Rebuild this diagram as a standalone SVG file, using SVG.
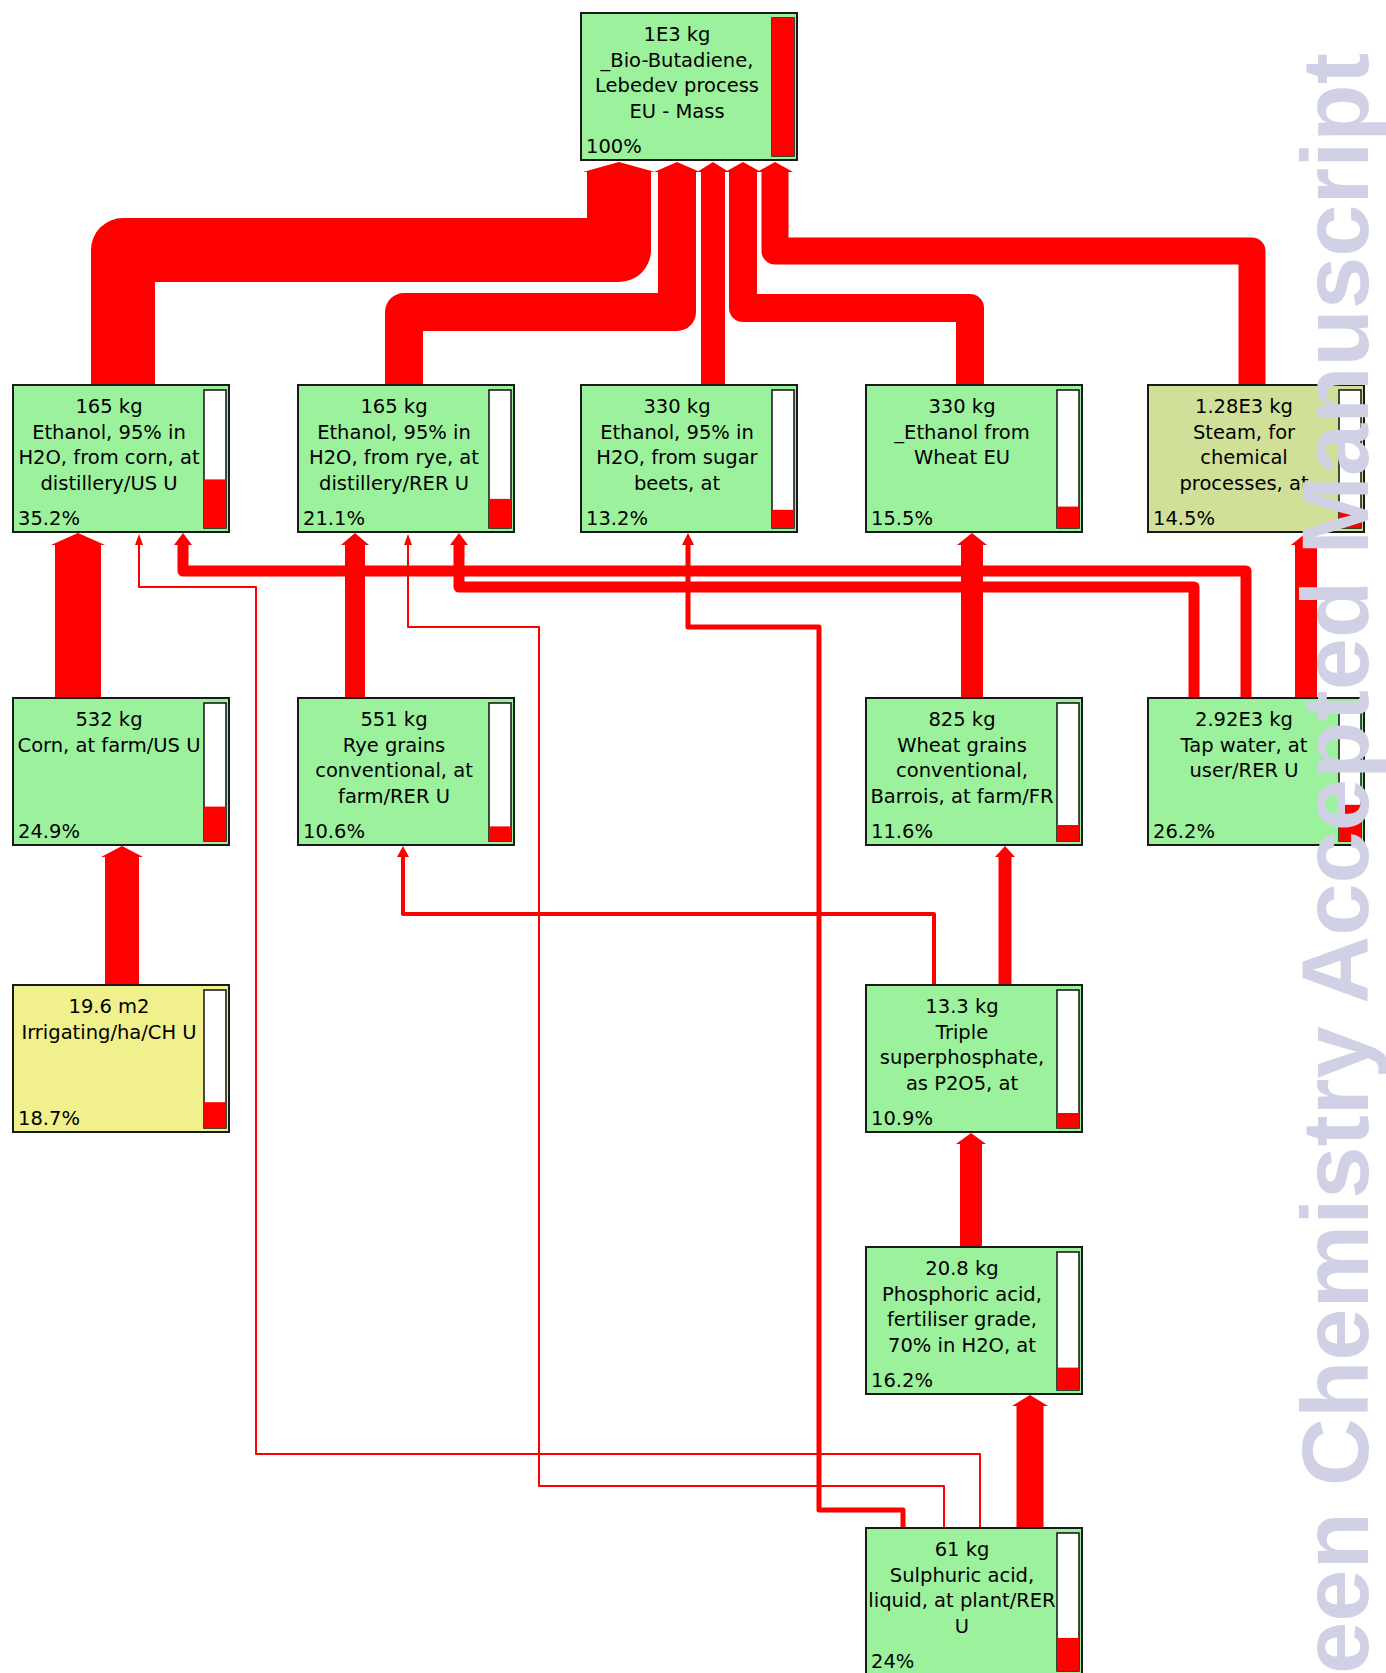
<svg xmlns="http://www.w3.org/2000/svg" width="1386" height="1673" viewBox="0 0 1386 1673">
<style>
.box{stroke:#1a1a1a;stroke-width:2}
.g{fill:#9cf29c}
.s{fill:#d0e098}
.y{fill:#f0f08c}
.bar{fill:#fff;stroke:#111;stroke-width:1.5}
.lvl{fill:#f00}
.t{font-family:"DejaVu Sans",sans-serif;font-size:19.5px;fill:#000;text-anchor:middle}
.p{font-family:"DejaVu Sans",sans-serif;font-size:19.5px;fill:#000}
.f{fill:none;stroke:#f00;stroke-linejoin:round}
.h{fill:#f00}
.wm{font-family:"Liberation Sans",Arial,sans-serif;font-weight:bold;font-size:94px;fill:#d1d1e6}
</style>
<rect width="1386" height="1673" fill="#fff"/>
<g id="connectors">
  <path class="f" stroke-width="64" d="M123,386 V250 H619 V172"/>
  <path class="f" stroke-width="38" d="M404,386 V312 H677 V172"/>
  <path class="f" stroke-width="24" d="M713,386 V172"/>
  <path class="f" stroke-width="28" d="M970,386 V308 H743 V172"/>
  <path class="f" stroke-width="27" d="M1252,386 V251 H775 V172"/>
  <polygon class="h" points="583,172 619,162 655,172"/>
  <polygon class="h" points="654,172 677,162 700,172"/>
  <polygon class="h" points="697,172 713,162 729,172"/>
  <polygon class="h" points="725,172 743,162 761,172"/>
  <polygon class="h" points="757,172 775,162 793,172"/>

  <path class="f" stroke-width="46" d="M78,699 V544"/>
  <polygon class="h" points="51,545 78,533 105,545"/>
  <path class="f" stroke-width="20" d="M355,699 V544"/>
  <polygon class="h" points="341,545 355,533 369,545"/>
  <path class="f" stroke-width="22" d="M972,699 V544"/>
  <polygon class="h" points="957,545 972,533 987,545"/>
  <path class="f" stroke-width="22" d="M1306,699 V544"/>
  <polygon class="h" points="1291,545 1306,533 1321,545"/>
  <path class="f" stroke-width="11" d="M1246,699 V571 H183 V544"/>
  <polygon class="h" points="174,545 183,533 192,545"/>
  <path class="f" stroke-width="11" d="M1194,699 V587 H459 V544"/>
  <polygon class="h" points="450,545 459,533 468,545"/>
  <path class="f" stroke-width="5" d="M903,1529 V1510 H819 V627 H688 V544"/>
  <polygon class="h" points="682,545 688,533 694,545"/>
  <path class="f" stroke-width="2" d="M944,1529 V1486 H539 V627 H408 V544"/>
  <polygon class="h" points="404,545 408,534 412,545"/>
  <path class="f" stroke-width="2" d="M980,1529 V1454 H256 V587 H139 V544"/>
  <polygon class="h" points="135,545 139,534 143,545"/>

  <path class="f" stroke-width="34" d="M122,986 V856"/>
  <polygon class="h" points="101,857 122,846 143,857"/>
  <path class="f" stroke-width="4" d="M934,986 V914 H403 V856"/>
  <polygon class="h" points="397,857 403,846 409,857"/>
  <path class="f" stroke-width="13" d="M1005,986 V856"/>
  <polygon class="h" points="995,857 1005,846 1015,857"/>
  <path class="f" stroke-width="22" d="M971,1248 V1143"/>
  <polygon class="h" points="956,1144 971,1133 986,1144"/>
  <path class="f" stroke-width="27" d="M1030,1529 V1405"/>
  <polygon class="h" points="1012,1406 1030,1395 1048,1406"/>
</g>

<g id="n-butadiene" transform="translate(581,13)">
  <rect class="box g" width="216" height="147"/>
  <rect class="bar" x="191" y="5" width="22" height="138"/>
  <rect class="lvl" x="191" y="5" width="22" height="138"/>
  <text class="t" y="28"><tspan x="96">1E3 kg</tspan><tspan x="96" dy="25.5">_Bio-Butadiene,</tspan><tspan x="96" dy="25.5">Lebedev process</tspan><tspan x="96" dy="25.5">EU - Mass</tspan></text>
  <text class="p" x="5" y="140">100%</text>
</g>

<g id="n-eth-corn" transform="translate(13,385)">
  <rect class="box g" width="216" height="147"/>
  <rect class="bar" x="191" y="5" width="22" height="138"/>
  <rect class="lvl" x="191" y="94.4" width="22" height="48.6"/>
  <text class="t" y="28"><tspan x="96">165 kg</tspan><tspan x="96" dy="25.5">Ethanol, 95% in</tspan><tspan x="96" dy="25.5">H2O, from corn, at</tspan><tspan x="96" dy="25.5">distillery/US U</tspan></text>
  <text class="p" x="5" y="140">35.2%</text>
</g>

<g id="n-eth-rye" transform="translate(298,385)">
  <rect class="box g" width="216" height="147"/>
  <rect class="bar" x="191" y="5" width="22" height="138"/>
  <rect class="lvl" x="191" y="113.9" width="22" height="29.1"/>
  <text class="t" y="28"><tspan x="96">165 kg</tspan><tspan x="96" dy="25.5">Ethanol, 95% in</tspan><tspan x="96" dy="25.5">H2O, from rye, at</tspan><tspan x="96" dy="25.5">distillery/RER U</tspan></text>
  <text class="p" x="5" y="140">21.1%</text>
</g>

<g id="n-eth-beet" transform="translate(581,385)">
  <rect class="box g" width="216" height="147"/>
  <rect class="bar" x="191" y="5" width="22" height="138"/>
  <rect class="lvl" x="191" y="124.8" width="22" height="18.2"/>
  <text class="t" y="28"><tspan x="96">330 kg</tspan><tspan x="96" dy="25.5">Ethanol, 95% in</tspan><tspan x="96" dy="25.5">H2O, from sugar</tspan><tspan x="96" dy="25.5">beets, at</tspan></text>
  <text class="p" x="5" y="140">13.2%</text>
</g>

<g id="n-eth-wheat" transform="translate(866,385)">
  <rect class="box g" width="216" height="147"/>
  <rect class="bar" x="191" y="5" width="22" height="138"/>
  <rect class="lvl" x="191" y="121.6" width="22" height="21.4"/>
  <text class="t" y="28"><tspan x="96">330 kg</tspan><tspan x="96" dy="25.5">_Ethanol from</tspan><tspan x="96" dy="25.5">Wheat EU</tspan></text>
  <text class="p" x="5" y="140">15.5%</text>
</g>

<g id="n-steam" transform="translate(1148,385)">
  <rect class="box s" width="216" height="147"/>
  <rect class="bar" x="191" y="5" width="22" height="138"/>
  <rect class="lvl" x="191" y="123" width="22" height="20"/>
  <text class="t" y="28"><tspan x="96">1.28E3 kg</tspan><tspan x="96" dy="25.5">Steam, for</tspan><tspan x="96" dy="25.5">chemical</tspan><tspan x="96" dy="25.5">processes, at</tspan></text>
  <text class="p" x="5" y="140">14.5%</text>
</g>

<g id="n-corn" transform="translate(13,698)">
  <rect class="box g" width="216" height="147"/>
  <rect class="bar" x="191" y="5" width="22" height="138"/>
  <rect class="lvl" x="191" y="108.6" width="22" height="34.4"/>
  <text class="t" y="28"><tspan x="96">532 kg</tspan><tspan x="96" dy="25.5">Corn, at farm/US U</tspan></text>
  <text class="p" x="5" y="140">24.9%</text>
</g>

<g id="n-rye" transform="translate(298,698)">
  <rect class="box g" width="216" height="147"/>
  <rect class="bar" x="191" y="5" width="22" height="138"/>
  <rect class="lvl" x="191" y="128.4" width="22" height="14.6"/>
  <text class="t" y="28"><tspan x="96">551 kg</tspan><tspan x="96" dy="25.5">Rye grains</tspan><tspan x="96" dy="25.5">conventional, at</tspan><tspan x="96" dy="25.5">farm/RER U</tspan></text>
  <text class="p" x="5" y="140">10.6%</text>
</g>

<g id="n-wheat" transform="translate(866,698)">
  <rect class="box g" width="216" height="147"/>
  <rect class="bar" x="191" y="5" width="22" height="138"/>
  <rect class="lvl" x="191" y="127" width="22" height="16"/>
  <text class="t" y="28"><tspan x="96">825 kg</tspan><tspan x="96" dy="25.5">Wheat grains</tspan><tspan x="96" dy="25.5">conventional,</tspan><tspan x="96" dy="25.5">Barrois, at farm/FR</tspan></text>
  <text class="p" x="5" y="140">11.6%</text>
</g>

<g id="n-tapwater" transform="translate(1148,698)">
  <rect class="box g" width="216" height="147"/>
  <rect class="bar" x="191" y="5" width="22" height="138"/>
  <rect class="lvl" x="191" y="106.8" width="22" height="36.2"/>
  <text class="t" y="28"><tspan x="96">2.92E3 kg</tspan><tspan x="96" dy="25.5">Tap water, at</tspan><tspan x="96" dy="25.5">user/RER U</tspan></text>
  <text class="p" x="5" y="140">26.2%</text>
</g>

<g id="n-irrigating" transform="translate(13,985)">
  <rect class="box y" width="216" height="147"/>
  <rect class="bar" x="191" y="5" width="22" height="138"/>
  <rect class="lvl" x="191" y="117.2" width="22" height="25.8"/>
  <text class="t" y="28"><tspan x="96">19.6 m2</tspan><tspan x="96" dy="25.5">Irrigating/ha/CH U</tspan></text>
  <text class="p" x="5" y="140">18.7%</text>
</g>

<g id="n-tsp" transform="translate(866,985)">
  <rect class="box g" width="216" height="147"/>
  <rect class="bar" x="191" y="5" width="22" height="138"/>
  <rect class="lvl" x="191" y="128" width="22" height="15"/>
  <text class="t" y="28"><tspan x="96">13.3 kg</tspan><tspan x="96" dy="25.5">Triple</tspan><tspan x="96" dy="25.5">superphosphate,</tspan><tspan x="96" dy="25.5">as P2O5, at</tspan></text>
  <text class="p" x="5" y="140">10.9%</text>
</g>

<g id="n-phosphoric" transform="translate(866,1247)">
  <rect class="box g" width="216" height="147"/>
  <rect class="bar" x="191" y="5" width="22" height="138"/>
  <rect class="lvl" x="191" y="120.6" width="22" height="22.4"/>
  <text class="t" y="28"><tspan x="96">20.8 kg</tspan><tspan x="96" dy="25.5">Phosphoric acid,</tspan><tspan x="96" dy="25.5">fertiliser grade,</tspan><tspan x="96" dy="25.5">70% in H2O, at</tspan></text>
  <text class="p" x="5" y="140">16.2%</text>
</g>

<g id="n-sulphuric" transform="translate(866,1528)">
  <rect class="box g" width="216" height="147"/>
  <rect class="bar" x="191" y="5" width="22" height="138"/>
  <rect class="lvl" x="191" y="109.9" width="22" height="33.1"/>
  <text class="t" y="28"><tspan x="96">61 kg</tspan><tspan x="96" dy="25.5">Sulphuric acid,</tspan><tspan x="96" dy="25.5">liquid, at plant/RER</tspan><tspan x="96" dy="25.5">U</tspan></text>
  <text class="p" x="5" y="140">24%</text>
</g>

<text class="wm" transform="translate(1368,53) rotate(-90)" text-anchor="end">Green Chemistry Accepted Manuscript</text>
</svg>
